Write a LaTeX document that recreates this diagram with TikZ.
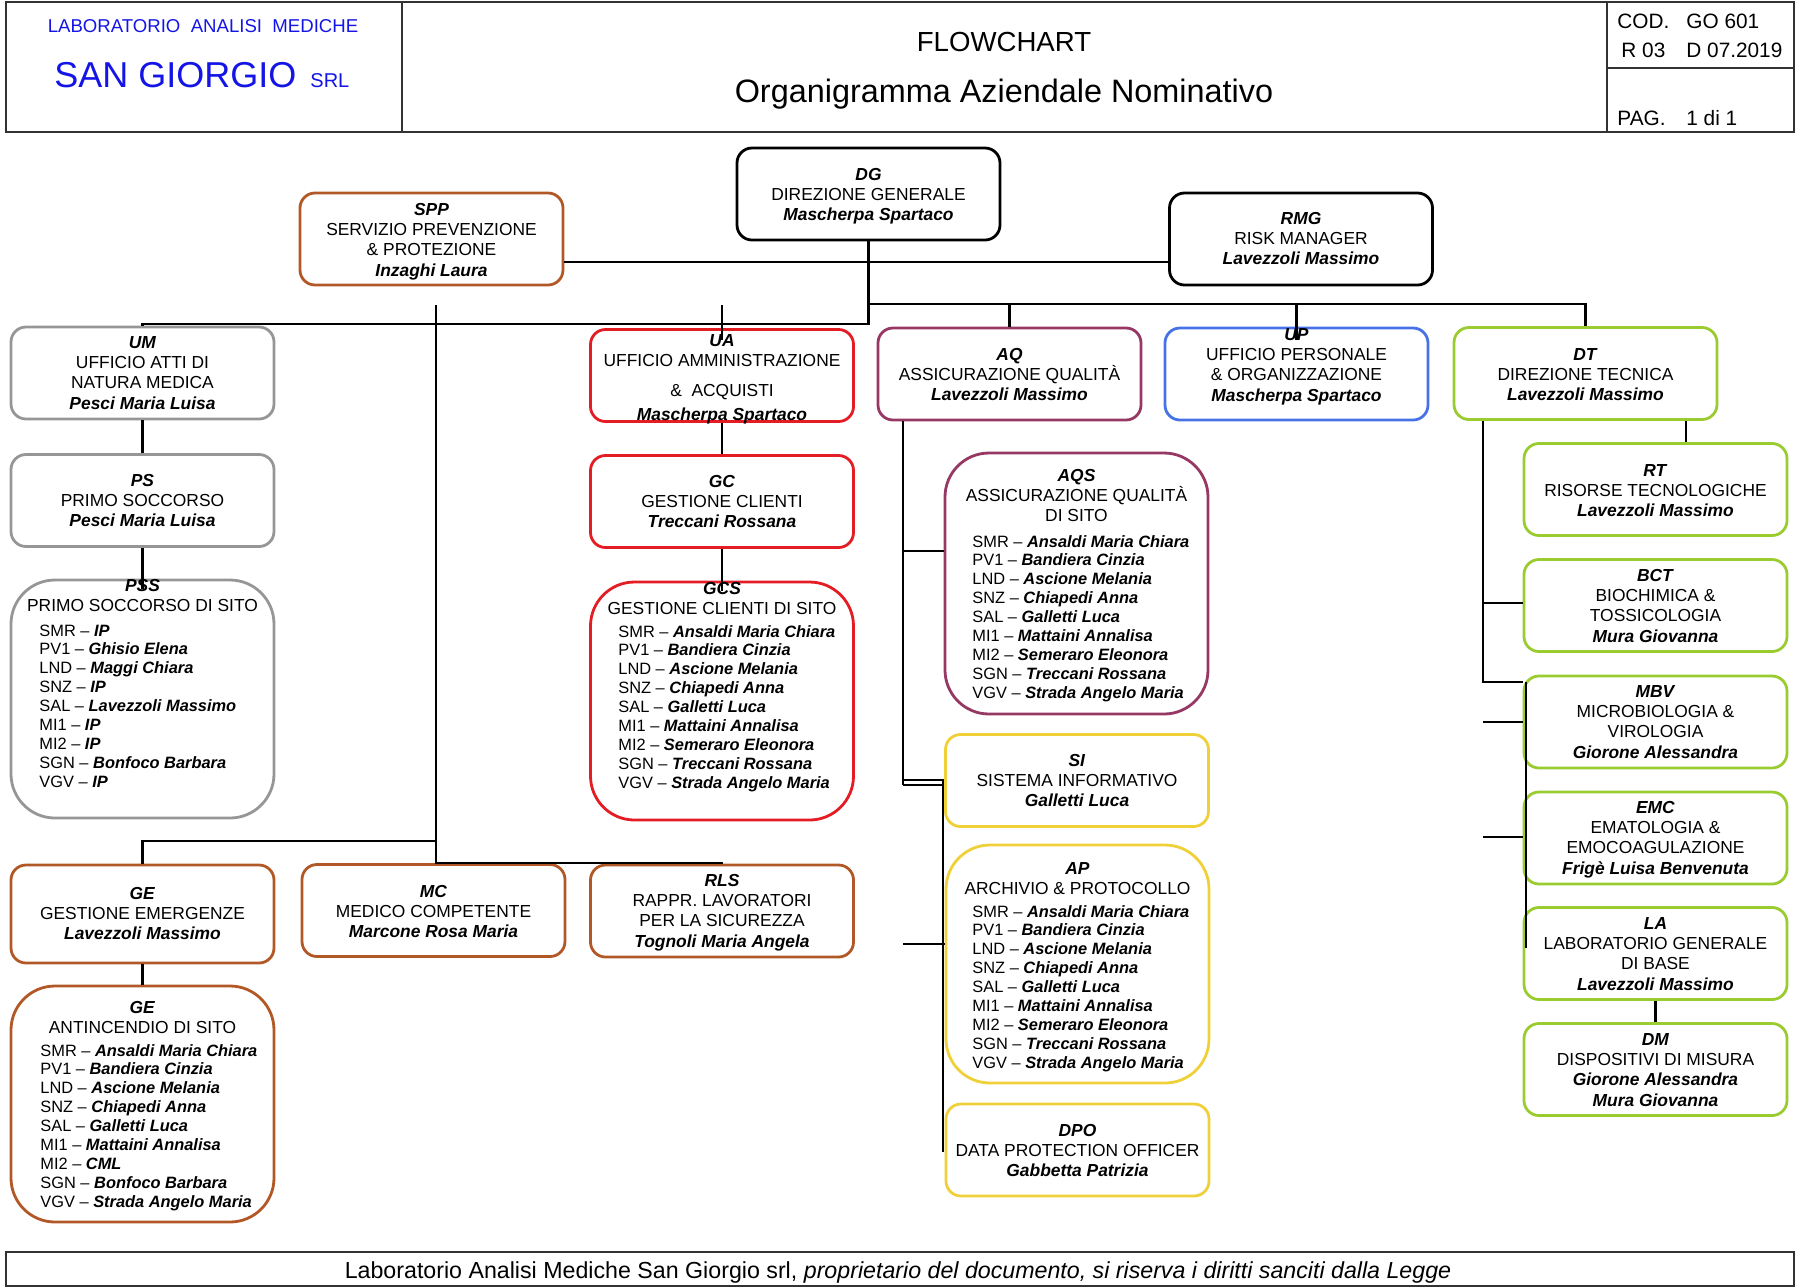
\documentclass[tikz,border=0pt]{standalone}
\usepackage{fontspec}
\setmainfont{Liberation Sans}
\definecolor{brownc}{RGB}{178,88,38}
\definecolor{grayc}{RGB}{150,150,150}
\definecolor{redc}{RGB}{228,28,36}
\definecolor{purpc}{RGB}{150,55,100}
\definecolor{bluec}{RGB}{70,114,230}
\definecolor{greenc}{RGB}{154,204,48}
\definecolor{yelc}{RGB}{240,208,56}
\definecolor{labblue}{RGB}{20,20,230}
\definecolor{hdrc}{RGB}{50,50,50}
\newcommand\nmB[1]{\textbf{\textit{#1}}}
\newcommand\fsN{\fontsize{8.7}{10.2}\selectfont}
\newcommand\fsL{\fontsize{8.2}{9.45}\selectfont}
\newcommand\ctext[1]{\parbox[t]{140pt}{\centering\fsN #1}}
\newcommand\ltext[1]{\parbox[t]{130pt}{\raggedright\fsL #1}}
\newcommand\itm[2]{#1 \textendash{} \nmB{#2}}
\newcommand\listFull{\itm{SMR}{Ansaldi Maria Chiara}\\\itm{PV1}{Bandiera Cinzia}\\\itm{LND}{Ascione Melania}\\\itm{SNZ}{Chiapedi Anna}\\\itm{SAL}{Galletti Luca}\\\itm{MI1}{Mattaini Annalisa}\\\itm{MI2}{Semeraro Eleonora}\\\itm{SGN}{Treccani Rossana}\\\itm{VGV}{Strada Angelo Maria}}
\tikzset{
 bx/.style={draw=#1, line width=1.4pt, rounded corners=7.5pt, minimum width=131.5pt, minimum height=46pt, inner sep=0pt},
 tb/.style={draw=#1, line width=1.4pt, rounded corners=22pt, minimum width=131.5pt, inner sep=0pt},
 cn/.style={line width=1.2pt, draw=black},
 cnt/.style={line width=0.9pt, draw=black},
 tx/.style={anchor=base, inner sep=0pt},
 lx/.style={anchor=base west, inner sep=0pt},
 hdr/.style={line width=1pt, draw=hdrc},
}
\begin{document}
\begin{tikzpicture}[x=0.5pt,y=-0.5pt]
\useasboundingbox (0,0) rectangle (1800,1287);
% ---------- header ----------
\draw[hdr] (6,2) rectangle (1794,132);
\draw[hdr] (402,2) -- (402,132);
\draw[hdr] (1607,2) -- (1607,132);
\draw[hdr] (1607,68) -- (1794,68);
\node[tx, text=labblue, font=\fontsize{9.3}{11}\selectfont] (lab1) at (203,32) {LABORATORIO\ \ ANALISI\ \ MEDICHE};
\node[anchor=base west, inner sep=0pt, text=labblue] (lab2) at (54,87) {\fontsize{18}{20}\selectfont SAN GIORGIO\hspace{7pt}\fontsize{10}{12}\selectfont SRL};
\node[tx, font=\fontsize{13.8}{15}\selectfont] (t1) at (1004,51) {FLOWCHART};
\node[tx, font=\fontsize{16.2}{18}\selectfont] (t2) at (1004,102) {Organigramma Aziendale Nominativo};
\begin{scope}[every node/.style={anchor=base west, inner sep=0pt, font=\fontsize{10.4}{12}\selectfont}]
\node (cod) at (1617,28) {COD.};
\node (codv) at (1686,28) {GO 601};
\node (rev) at (1621,57) {R 03};
\node (dat) at (1686,57) {D 07.2019};
\node (pag) at (1617,125) {PAG.};
\node (pagv) at (1686,125) {1 di 1};
\end{scope}
% ---------- footer ----------
\draw[hdr] (6,1252) rectangle (1794,1286);
\node[tx, font=\fontsize{11.6}{14}\selectfont] (foot) at (898,1278) {Laboratorio Analisi Mediche San Giorgio srl, \textit{proprietario del documento, si riserva i diritti sanciti dalla Legge}};
% ---------- boxes ----------
\node[bx=black] (DG) at (868.5,194) {};
\node[bx=brownc] (SPP) at (431.5,239) {};
\node[bx=black] (RMG) at (1301,239) {};
\node[bx=grayc] (UM) at (142.5,373) {};
\node[bx=redc] (UA) at (722,375.5) {};
\node[bx=purpc] (AQ) at (1009.5,374) {};
\node[bx=bluec] (UP) at (1296.5,374) {};
\node[bx=greenc] (DT) at (1585.5,373.5) {};
\node[bx=grayc] (PS) at (142.5,500.5) {};
\node[tb=grayc, minimum height=119pt] (PSS) at (142.5,699) {};
\node[bx=redc] (GC) at (722,501.5) {};
\node[tb=redc, minimum height=119pt] (GCS) at (722,701) {};
\node[tb=purpc, minimum height=130.5pt] (AQS) at (1076.5,583.5) {};
\node[bx=yelc] (SI) at (1077,780.5) {};
\node[tb=yelc, minimum height=119pt] (AP) at (1077.5,964) {};
\node[bx=yelc] (DPO) at (1077.5,1150) {};
\node[bx=greenc] (RT) at (1655.5,489.5) {};
\node[bx=greenc] (BCT) at (1655.5,605.5) {};
\node[bx=greenc] (MBV) at (1655.5,722) {};
\node[bx=greenc] (EMC) at (1655.5,838) {};
\node[bx=greenc] (LA) at (1655.5,953.5) {};
\node[bx=greenc] (DM) at (1655.5,1069.5) {};
\node[bx=brownc, minimum height=49pt] (GE) at (142.5,914) {};
\node[bx=brownc] (MC) at (433.5,910.5) {};
\node[bx=brownc] (RLS) at (722,911) {};
\node[tb=brownc, minimum height=118pt] (GE2) at (142.5,1104) {};
% ---------- box texts ----------
\node[tx] (DG-t) at (868.5,180) {\ctext{\nmB{DG}\\DIREZIONE GENERALE\\\nmB{Mascherpa Spartaco}}};
\node[tx] (SPP-t) at (431.5,215) {\ctext{\nmB{SPP}\\SERVIZIO PREVENZIONE\\\& PROTEZIONE\\\nmB{Inzaghi Laura}}};
\node[tx] (RMG-t) at (1301,224) {\ctext{\nmB{RMG}\\RISK MANAGER\\\nmB{Lavezzoli Massimo}}};
\node[tx] (UM-t) at (142.5,348) {\ctext{\nmB{UM}\\UFFICIO ATTI DI\\NATURA MEDICA\\\nmB{Pesci Maria Luisa}}};
\node[tx] (UA-t) at (722,346) {\ctext{\nmB{UA}\\UFFICIO AMMINISTRAZIONE\\[5pt]\&\ \ ACQUISTI\\[1.5pt]\nmB{Mascherpa Spartaco}}};
\node[tx] (AQ-t) at (1009.5,360) {\ctext{\nmB{AQ}\\ASSICURAZIONE QUALITÀ\\\nmB{Lavezzoli Massimo}}};
\node[tx] (UP-t) at (1296.5,340) {\ctext{\nmB{UP}\\UFFICIO PERSONALE\\\& ORGANIZZAZIONE\\\nmB{Mascherpa Spartaco}}};
\node[tx] (DT-t) at (1585.5,360) {\ctext{\nmB{DT}\\DIREZIONE TECNICA\\\nmB{Lavezzoli Massimo}}};
\node[tx] (PS-t) at (142.5,486) {\ctext{\nmB{PS}\\PRIMO SOCCORSO\\\nmB{Pesci Maria Luisa}}};
\node[tx] (GC-t) at (722,487) {\ctext{\nmB{GC}\\GESTIONE CLIENTI\\\nmB{Treccani Rossana}}};
\node[tx] (RT-t) at (1655.5,476) {\ctext{\nmB{RT}\\RISORSE TECNOLOGICHE\\\nmB{Lavezzoli Massimo}}};
\node[tx] (BCT-t) at (1655.5,581) {\ctext{\nmB{BCT}\\BIOCHIMICA \&\\TOSSICOLOGIA\\\nmB{Mura Giovanna}}};
\node[tx] (MBV-t) at (1655.5,697) {\ctext{\nmB{MBV}\\MICROBIOLOGIA \&\\VIROLOGIA\\\nmB{Giorone Alessandra}}};
\node[tx] (EMC-t) at (1655.5,813) {\ctext{\nmB{EMC}\\EMATOLOGIA \&\\EMOCOAGULAZIONE\\\nmB{Frigè Luisa Benvenuta}}};
\node[tx] (LA-t) at (1655.5,929) {\ctext{\nmB{LA}\\LABORATORIO GENERALE\\DI BASE\\\nmB{Lavezzoli Massimo}}};
\node[tx] (DM-t) at (1655.5,1045) {\ctext{\nmB{DM}\\DISPOSITIVI DI MISURA\\\nmB{Giorone Alessandra}\\\nmB{Mura Giovanna}}};
\node[tx] (SI-t) at (1077,766) {\ctext{\nmB{SI}\\SISTEMA INFORMATIVO\\\nmB{Galletti Luca}}};
\node[tx] (DPO-t) at (1077.5,1136) {\ctext{\nmB{DPO}\\DATA PROTECTION OFFICER\\\nmB{Gabbetta Patrizia}}};
\node[tx] (GE-t) at (142.5,899) {\ctext{\nmB{GE}\\GESTIONE EMERGENZE\\\nmB{Lavezzoli Massimo}}};
\node[tx] (MC-t) at (433.5,897) {\ctext{\nmB{MC}\\MEDICO COMPETENTE\\\nmB{Marcone Rosa Maria}}};
\node[tx] (RLS-t) at (722,886) {\ctext{\nmB{RLS}\\RAPPR. LAVORATORI\\PER LA SICUREZZA\\\nmB{Tognoli Maria Angela}}};
% tall boxes
\node[tx] (PSS-t) at (142.5,591) {\ctext{\nmB{PSS}\\PRIMO SOCCORSO DI SITO}};
\node[lx] (PSS-l) at (39,636) {\ltext{\itm{SMR}{IP}\\\itm{PV1}{Ghisio Elena}\\\itm{LND}{Maggi Chiara}\\\itm{SNZ}{IP}\\\itm{SAL}{Lavezzoli Massimo}\\\itm{MI1}{IP}\\\itm{MI2}{IP}\\\itm{SGN}{Bonfoco Barbara}\\\itm{VGV}{IP}}};
\node[tx] (GCS-t) at (722,594) {\ctext{\nmB{GCS}\\GESTIONE CLIENTI DI SITO}};
\node[lx] (GCS-l) at (618,637) {\ltext{\listFull}};
\node[tx] (AQS-t) at (1076.5,481) {\ctext{\nmB{AQS}\\ASSICURAZIONE QUALITÀ\\DI SITO}};
\node[lx] (AQS-l) at (972,547) {\ltext{\listFull}};
\node[tx] (AP-t) at (1077.5,874) {\ctext{\nmB{AP}\\ARCHIVIO \& PROTOCOLLO}};
\node[lx] (AP-l) at (972,917) {\ltext{\listFull}};
\node[tx] (GE2-t) at (142.5,1013) {\ctext{\nmB{GE}\\ANTINCENDIO DI SITO}};
\node[lx] (GE2-l) at (40,1056) {\ltext{\itm{SMR}{Ansaldi Maria Chiara}\\\itm{PV1}{Bandiera Cinzia}\\\itm{LND}{Ascione Melania}\\\itm{SNZ}{Chiapedi Anna}\\\itm{SAL}{Galletti Luca}\\\itm{MI1}{Mattaini Annalisa}\\\itm{MI2}{CML}\\\itm{SGN}{Bonfoco Barbara}\\\itm{VGV}{Strada Angelo Maria}}};
% ---------- connectors ----------
\coordinate (jDG) at (868.5,304);
\coordinate (jL) at (868.5,324);
\draw[cn] (DG.south) -- (jDG) -- (DT.north |- jDG) -- (DT.north);
\coordinate (jAQ) at (AQ.north |- jDG);
\draw[cn] (jAQ) -- (AQ.north);
\coordinate (jUP) at (UP.north |- jDG);
\coordinate (eUP) at (1296.5,340);
\draw[cn] (jUP) -- (eUP);
\draw[cn] (jDG) -- (jL) -- (UM.north |- jL) -- (UM.north);
\coordinate (sUA) at (722,305);
\coordinate (eUA) at (722,340);
\draw[cn] (sUA) -- (eUA);
\draw[cn] (SPP.east |- 0,262) -- (RMG.west |- 0,262);
\coordinate (sM) at (436,305);
\coordinate (jM) at (436,841);
\coordinate (jMC) at (436,863);
\coordinate (jRLS) at (722,863);
\draw[cn] (sM) -- (jMC) -- (jRLS) -- (RLS.north);
\draw[cn] (jM) -- (GE.north |- jM) -- (GE.north);
\draw[cn] (UM.south) -- (PS.north);
\draw[cn] (PS.south) -- ([yshift=-5pt]PSS.north);
\draw[cn] (UA.south) -- (GC.north);
\draw[cn] (GC.south) -- ([yshift=-5pt]GCS.north);
\draw[cn] (GE.south) -- (GE2.north);
\draw[cn] (LA.south) -- (DM.north);
% AQ column
\coordinate (q0) at (AQ.south -| 903,0);
\coordinate (q1) at (903,551);
\coordinate (q2) at (903,780);
\coordinate (q3) at (903,785);
\draw[cn] (q0) -- (q3);
\draw[cnt] (q3) -- (SI.west |- q3);
\draw[cnt] (q2) -- (SI.west |- q2);
\draw[cn] (q1) -- (AQS.west |- q1);
\coordinate (r0) at (943,780);
\coordinate (r1) at (943,1152);
\draw[cn] (r0) -- (r1);
\coordinate (s0) at (903,944);
\draw[cn] (s0) -- (AP.west |- s0);
% DT column
\coordinate (d0) at (DT.south -| 1483,0);
\coordinate (d1) at (1483,603);
\coordinate (d2) at (1483,682);
\draw[cn] (d0) -- (d2) -- (MBV.west |- d2);
\draw[cn] (d1) -- (BCT.west |- d1);
\coordinate (d3) at (1483,722);
\draw[cn] (d3) -- (MBV.west |- d3);
\coordinate (d4) at (1483,837);
\draw[cn] (d4) -- (EMC.west |- d4);
\coordinate (e0) at (1526,682);
\coordinate (e1) at (1526,948);
\draw[cn] (e0) -- (e1);
\draw[cn] (DT.south -| 1686,0) -- (RT.north -| 1686,0);
\end{tikzpicture}
\end{document}
